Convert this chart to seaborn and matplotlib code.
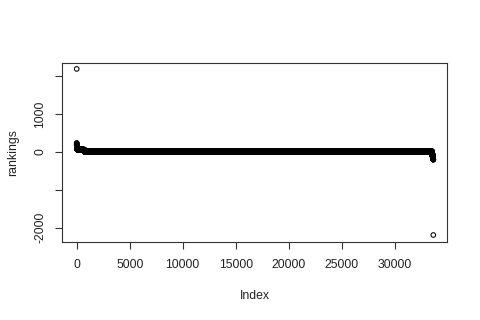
import numpy as np
import pandas as pd
import matplotlib
matplotlib.use("Agg")
import matplotlib.pyplot as plt
import seaborn as sns

# Run-length description of the series
run_values = [2190, 230, 200, 170, 140, 115, 95, 80, 65, 55, 10,
              -20, -50, -80, -110, -140, -170, -200, -2196]
run_lengths = [1, 2, 3, 4, 6, 8, 12, 20, 150, 500, 32804,
               20, 20, 20, 20, 20, 20, 10, 1]

x_ticks = [0, 5000, 10000, 15000, 20000, 25000, 30000]
y_ticks = [-2000, -1000, 0, 1000, 2000]
y_tick_labels = ["-2000", "", "0", "1000", ""]

rankings = np.repeat(run_values, run_lengths)
index = np.arange(1, len(rankings) + 1)
df = pd.DataFrame({"Index": index, "rankings": rankings})

sns.set_style("ticks")
plt.rcParams["font.family"] = ["Liberation Sans", "DejaVu Sans"]
plt.rcParams["font.size"] = 8.8

fig = plt.figure(figsize=(4.8, 3.2), dpi=100)
ax = fig.add_axes([62.3 / 480, 1 - 242 / 320, (447 - 62.3) / 480, (242 - 62.7) / 320])

sns.scatterplot(data=df, x="Index", y="rankings", ax=ax, marker="o",
                facecolor="none", edgecolor="black", s=11, linewidth=0.75,
                legend=False)

ax.set_xlim(-1358, 34934)
ax.set_ylim(-2381, 2354)
ax.set_xticks(x_ticks)
ax.set_xticklabels([str(v) for v in x_ticks])
ax.set_yticks(y_ticks)
ax.set_yticklabels(y_tick_labels, rotation=90, va="center")

for sp in ax.spines.values():
    sp.set_visible(True)
    sp.set_color("#333333")
    sp.set_linewidth(0.8)

ax.tick_params(axis="both", direction="out", length=5, width=0.8,
               color="#333333", labelcolor="#222222", labelsize=8.8)
ax.tick_params(axis="x", pad=7.5)
ax.tick_params(axis="y", pad=6.5)

ax.set_xlabel("Index", fontsize=8.8, color="#222222")
ax.set_ylabel("rankings", fontsize=8.8, color="#222222")
ax.xaxis.set_label_coords((255 - 62.3) / 384.7, -(296 - 242) / 179.3)
ax.xaxis.label.set_va("center")
ax.yaxis.set_label_coords(-(62.3 - 13) / 384.7, 0.5)
ax.yaxis.label.set_va("center")

fig.savefig("out.png", dpi=100, facecolor="white")
